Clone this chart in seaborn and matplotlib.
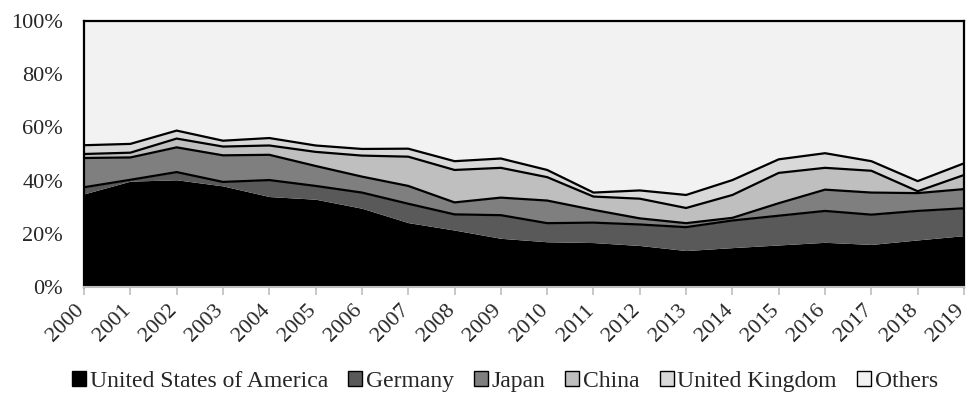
import numpy as np
import matplotlib
matplotlib.use("Agg")
import matplotlib.pyplot as plt
import matplotlib.transforms as mtransforms
from matplotlib.patches import Patch
import seaborn as sns

years = list(range(2000, 2020))
series_names = ["United States of America", "Germany", "Japan", "China",
                "United Kingdom", "Others"]

usa = [35.0, 39.8, 40.3, 38.0, 34.0, 33.0, 29.6, 24.2, 21.4, 18.3,
       17.0, 16.7, 15.6, 13.7, 14.8, 15.8, 16.8, 16.0, 17.7, 19.3]
germany = [2.5, 0.5, 2.9, 1.5, 6.2, 5.0, 5.9, 7.1, 5.9, 8.7,
           7.0, 7.5, 7.9, 8.8, 10.2, 11.0, 11.8, 11.2, 10.9, 10.3]
japan = [11.0, 8.4, 9.3, 10.0, 9.5, 7.5, 6.0, 6.7, 4.5, 6.6,
         8.5, 4.8, 2.3, 1.5, 1.0, 4.7, 8.0, 8.3, 6.7, 7.2]
china = [1.5, 1.8, 3.3, 3.3, 3.5, 5.3, 7.9, 11.0, 12.2, 11.2,
         8.8, 5.0, 7.4, 5.7, 8.6, 11.4, 8.2, 8.2, 0.7, 5.3]
uk = [3.3, 3.3, 3.0, 2.2, 2.8, 2.4, 2.5, 3.0, 3.3, 3.5,
      2.7, 1.5, 3.1, 4.9, 5.6, 5.1, 5.5, 3.6, 3.8, 4.4]
others = [100 - (a + b + c + d + e) for a, b, c, d, e in
          zip(usa, germany, japan, china, uk)]

colors = ["#000000", "#595959", "#7f7f7f", "#bfbfbf", "#d9d9d9", "#f2f2f2"]
ytick_vals = [0, 20, 40, 60, 80, 100]
ytick_labels = [f"{v}%" for v in ytick_vals]

sns.set_theme(style="white")
plt.rcParams["font.family"] = ["Liberation Serif", "DejaVu Serif"]

fig = plt.figure(figsize=(9.67, 4.04), dpi=100)
ax = fig.add_axes([0.0869, 0.2896, 0.9100, 0.6584])

data = [usa, germany, japan, china, uk, others]
ax.stackplot(years, *data, colors=colors, linewidth=0)

cum = np.cumsum(np.array(data), axis=0)
for i in range(1, 5):
    sns.lineplot(x=years, y=cum[i], ax=ax, color="black", linewidth=1.6,
                 estimator=None, legend=False)

ax.set_xlim(years[0], years[-1])
ax.set_ylim(0, 100)
ax.set_xticks(years)
ax.set_xticklabels([str(y) for y in years], rotation=45, ha="right",
                   va="top", rotation_mode="anchor", fontsize=16)
ax.set_yticks(ytick_vals)
ax.set_yticklabels(ytick_labels, fontsize=16)
ax.tick_params(axis="x", direction="out", length=6, width=1.2,
               color="#bfbfbf", bottom=True, pad=4)
ax.tick_params(axis="y", length=0, pad=15)

offset = mtransforms.ScaledTranslation(-9 / 100, 0, fig.dpi_scale_trans)
for lab in ax.get_xticklabels():
    lab.set_transform(lab.get_transform() + offset)

for side in ["left", "top", "right"]:
    ax.spines[side].set_color("black")
    ax.spines[side].set_linewidth(1.6)
ax.spines["bottom"].set_color("#bfbfbf")
ax.spines["bottom"].set_linewidth(1.5)

handles = [Patch(facecolor=c, edgecolor="black", linewidth=1.0) for c in colors]
fig.legend(handles, series_names, loc="lower center",
           bbox_to_anchor=(0.522, -0.01), ncol=6, frameon=False,
           fontsize=17, handlelength=0.6, handleheight=0.6,
           handletextpad=0.15, columnspacing=0.85, borderaxespad=0.3)

fig.savefig("out.png", dpi=100)
